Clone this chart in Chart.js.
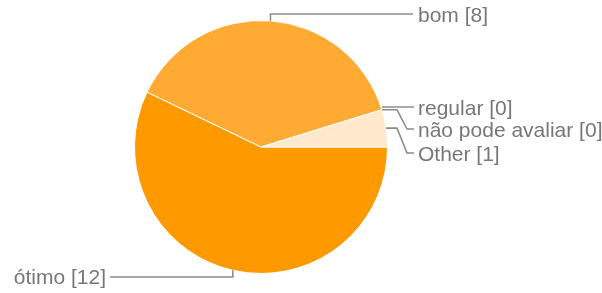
<!DOCTYPE html>
<html>
<head>
<meta charset="utf-8">
<script src="https://cdn.jsdelivr.net/npm/chart.js@4/dist/chart.umd.min.js"></script>
<style>
html,body{margin:0;padding:0;background:#fff;}
#c{display:block;}
</style>
</head>
<body>
<canvas id="c" width="602" height="293"></canvas>
<script>
const categories = ['ótimo', 'bom', 'regular', 'não pode avaliar', 'Other'];
const counts = [12, 8, 0, 0, 1];
const sliceColors = ['#FF9900', '#FFAA33', '#FFAA33', '#FFAA33', '#FFE8CC'];

// label placement (layout only): side and label line y
const labelLayout = [
  {side: 'bottom', y: 277},
  {side: 'top', y: 14},
  {side: 'right', y: 107},
  {side: 'right', y: 129},
  {side: 'right', y: 153}
];

const leaderPlugin = {
  id: 'leaders',
  afterDraw(chart) {
    const ctx = chart.ctx;
    const meta = chart.getDatasetMeta(0);
    ctx.save();
    ctx.strokeStyle = '#8c8c8c';
    ctx.lineWidth = 1.6;
    ctx.fillStyle = '#777777';
    ctx.font = '21px "Liberation Sans", Arial, sans-serif';
    ctx.textBaseline = 'middle';
    meta.data.forEach((arc, i) => {
      const p = arc.getProps(['x', 'y', 'startAngle', 'endAngle', 'outerRadius'], true);
      const a = (p.startAngle + p.endAngle) / 2;
      const R = p.outerRadius;
      const ax = p.x + Math.cos(a) * R;
      const ay = p.y + Math.sin(a) * R;
      const L = labelLayout[i];
      const text = categories[i] + ' [' + counts[i] + ']';
      ctx.beginPath();
      if (L.side === 'top') {
        ctx.moveTo(ax, ay);
        ctx.lineTo(ax, L.y);
        ctx.lineTo(413, L.y);
        ctx.stroke();
        ctx.textAlign = 'left';
        ctx.fillText(text, 418, L.y + 2);
      } else if (L.side === 'bottom') {
        ctx.moveTo(ax, ay);
        ctx.lineTo(ax, L.y);
        ctx.lineTo(110, L.y);
        ctx.stroke();
        ctx.textAlign = 'right';
        ctx.fillText(text, 106, L.y + 1);
      } else {
        const sy = Math.abs(ay - L.y) < 5 ? L.y : ay;
        ctx.moveTo(ax, sy);
        ctx.lineTo(397, sy);
        ctx.lineTo(407, L.y);
        ctx.lineTo(414, L.y);
        ctx.stroke();
        ctx.textAlign = 'left';
        ctx.fillText(text, 418, L.y + 2);
      }
    });
    ctx.restore();
  }
};

new Chart(document.getElementById('c'), {
  type: 'pie',
  data: {
    labels: categories,
    datasets: [{
      data: counts,
      backgroundColor: sliceColors,
      borderColor: '#ffffff',
      borderWidth: 1
    }]
  },
  options: {
    responsive: false,
    animation: false,
    rotation: 90,
    layout: {padding: {top: 20, bottom: 19, left: 0, right: 80}},
    plugins: {legend: {display: false}, tooltip: {enabled: false}}
  },
  plugins: [leaderPlugin]
});
</script>
</body>
</html>
